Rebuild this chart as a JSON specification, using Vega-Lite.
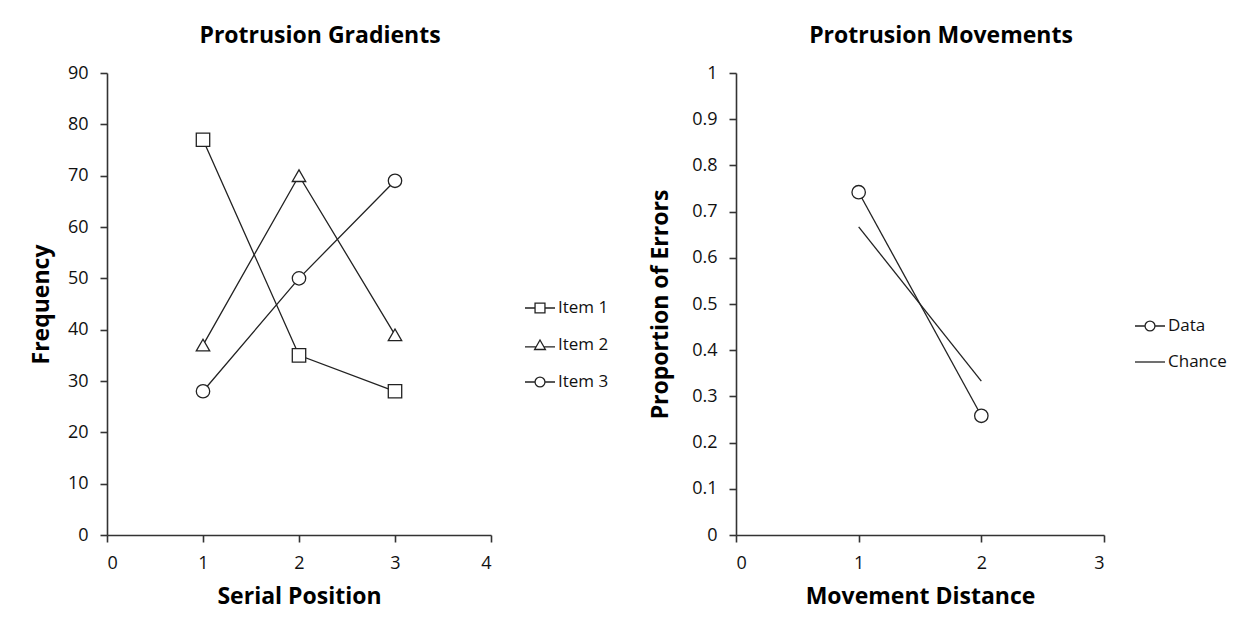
{
  "$schema": "https://vega.github.io/schema/vega-lite/v6.json",
  "background": "white",
  "padding": {"left": 30, "top": 25, "right": 10, "bottom": 10},
  "config": {
    "view": {"stroke": null},
    "font": "Open Sans",
    "axis": {"grid": false, "domainColor": "#333", "domainWidth": 1.6, "tickColor": "#333", "tickWidth": 1.6, "tickSize": 7, "labelFont": "Open Sans", "labelFontSize": 18, "labelColor": "#111", "labelPadding": 12, "titleFont": "Open Sans", "titleFontSize": 23, "titleFontWeight": "bold", "titleColor": "black", "titlePadding": 13},
    "axisY": {"labelPadding": 12, "titlePadding": 14},
    "title": {"font": "Open Sans", "fontSize": 23, "fontWeight": "bold", "color": "black", "anchor": "middle", "frame": "group", "offset": 16, "dx": 21},
    "legend": {"title": null, "orient": "none", "symbolSize": 900, "labelFont": "Open Sans", "labelFontSize": 17, "labelColor": "#111", "rowPadding": 13, "padding": 0, "labelOffset": 2}
  },
  "datasets": {
    "gradients": [
      {"series": "Item 1", "position": 1, "frequency": 77},
      {"series": "Item 1", "position": 2, "frequency": 35},
      {"series": "Item 1", "position": 3, "frequency": 28},
      {"series": "Item 2", "position": 1, "frequency": 37},
      {"series": "Item 2", "position": 2, "frequency": 70},
      {"series": "Item 2", "position": 3, "frequency": 39},
      {"series": "Item 3", "position": 1, "frequency": 28},
      {"series": "Item 3", "position": 2, "frequency": 50},
      {"series": "Item 3", "position": 3, "frequency": 69}
    ],
    "movements": [
      {"series": "Data", "distance": 1, "proportion": 0.742},
      {"series": "Data", "distance": 2, "proportion": 0.258},
      {"series": "Chance", "distance": 1, "proportion": 0.667},
      {"series": "Chance", "distance": 2, "proportion": 0.333}
    ]
  },
  "bounds": "flush",
  "spacing": 245,
  "resolve": {"scale": {"color": "independent"}, "legend": {"color": "independent"}},
  "hconcat": [
    {
      "width": 384,
      "height": 462,
      "title": "Protrusion Gradients",
      "data": {"name": "gradients"},
      "encoding": {
        "x": {"field": "position", "type": "quantitative", "title": "Serial Position", "scale": {"domain": [0, 4], "nice": false}, "axis": {"values": [0, 1, 2, 3, 4]}},
        "y": {"field": "frequency", "type": "quantitative", "title": "Frequency", "scale": {"domain": [0, 90], "nice": false}, "axis": {"values": [0, 10, 20, 30, 40, 50, 60, 70, 80, 90]}}
      },
      "layer": [
        {
          "mark": {"type": "line", "strokeWidth": 1.3},
          "encoding": {
            "color": {
              "field": "series", "type": "nominal",
              "scale": {"domain": ["Item 1", "Item 2", "Item 3"], "range": ["#222", "#222", "#222"]},
              "legend": {
                "legendX": 417, "legendY": 219,
                "encode": {"symbols": {"update": {
                  "shape": {"signal": "datum.value === 'Item 1' ? 'M-1,0H-0.33M0.33,0H1M-0.33,-0.33H0.33V0.33H-0.33Z' : datum.value === 'Item 2' ? 'M-1,0.12H-0.27M0.27,0.12H1M0,-0.33L0.36,0.3H-0.36Z' : 'M-1,0H-0.33M0.33,0H1M-0.33,0A0.33,0.33,0,1,1,0.33,0A0.33,0.33,0,1,1,-0.33,0Z'"},
                  "fill": {"value": "white"},
                  "stroke": {"value": "#222"},
                  "strokeWidth": {"value": 1.3}
                }}}
              }
            }
          }
        },
        {
          "mark": {"type": "point", "filled": true, "fill": "white", "stroke": "#222", "strokeWidth": 1.3, "size": 180, "opacity": 1},
          "encoding": {
            "shape": {"field": "series", "type": "nominal", "scale": {"domain": ["Item 1", "Item 2", "Item 3"], "range": ["square", "triangle-up", "circle"]}, "legend": null}
          }
        }
      ]
    },
    {
      "width": 368,
      "height": 462,
      "title": "Protrusion Movements",
      "data": {"name": "movements"},
      "encoding": {
        "x": {"field": "distance", "type": "quantitative", "title": "Movement Distance", "scale": {"domain": [0, 3], "nice": false}, "axis": {"values": [0, 1, 2, 3]}},
        "y": {"field": "proportion", "type": "quantitative", "title": "Proportion of Errors", "scale": {"domain": [0, 1], "nice": false}, "axis": {"values": [0, 0.1, 0.2, 0.3, 0.4, 0.5, 0.6, 0.7, 0.8, 0.9, 1], "format": "~g", "titlePadding": 19}}
      },
      "layer": [
        {
          "mark": {"type": "line", "strokeWidth": 1.3},
          "encoding": {
            "color": {
              "field": "series", "type": "nominal",
              "scale": {"domain": ["Data", "Chance"], "range": ["#222", "#222"]},
              "legend": {
                "legendX": 398, "legendY": 237, "rowPadding": 12,
                "encode": {"symbols": {"update": {
                  "shape": {"signal": "datum.value === 'Data' ? 'M-1,0H-0.33M0.33,0H1M-0.33,0A0.33,0.33,0,1,1,0.33,0A0.33,0.33,0,1,1,-0.33,0Z' : 'M-1,0H1'"},
                  "fill": {"value": "white"},
                  "stroke": {"value": "#222"},
                  "strokeWidth": {"value": 1.3}
                }}}
              }
            }
          }
        },
        {
          "transform": [{"filter": "datum.series === 'Data'"}],
          "mark": {"type": "point", "filled": true, "fill": "white", "stroke": "#222", "strokeWidth": 1.3, "size": 180, "shape": "circle", "opacity": 1},
          "encoding": {}
        }
      ]
    }
  ]
}
